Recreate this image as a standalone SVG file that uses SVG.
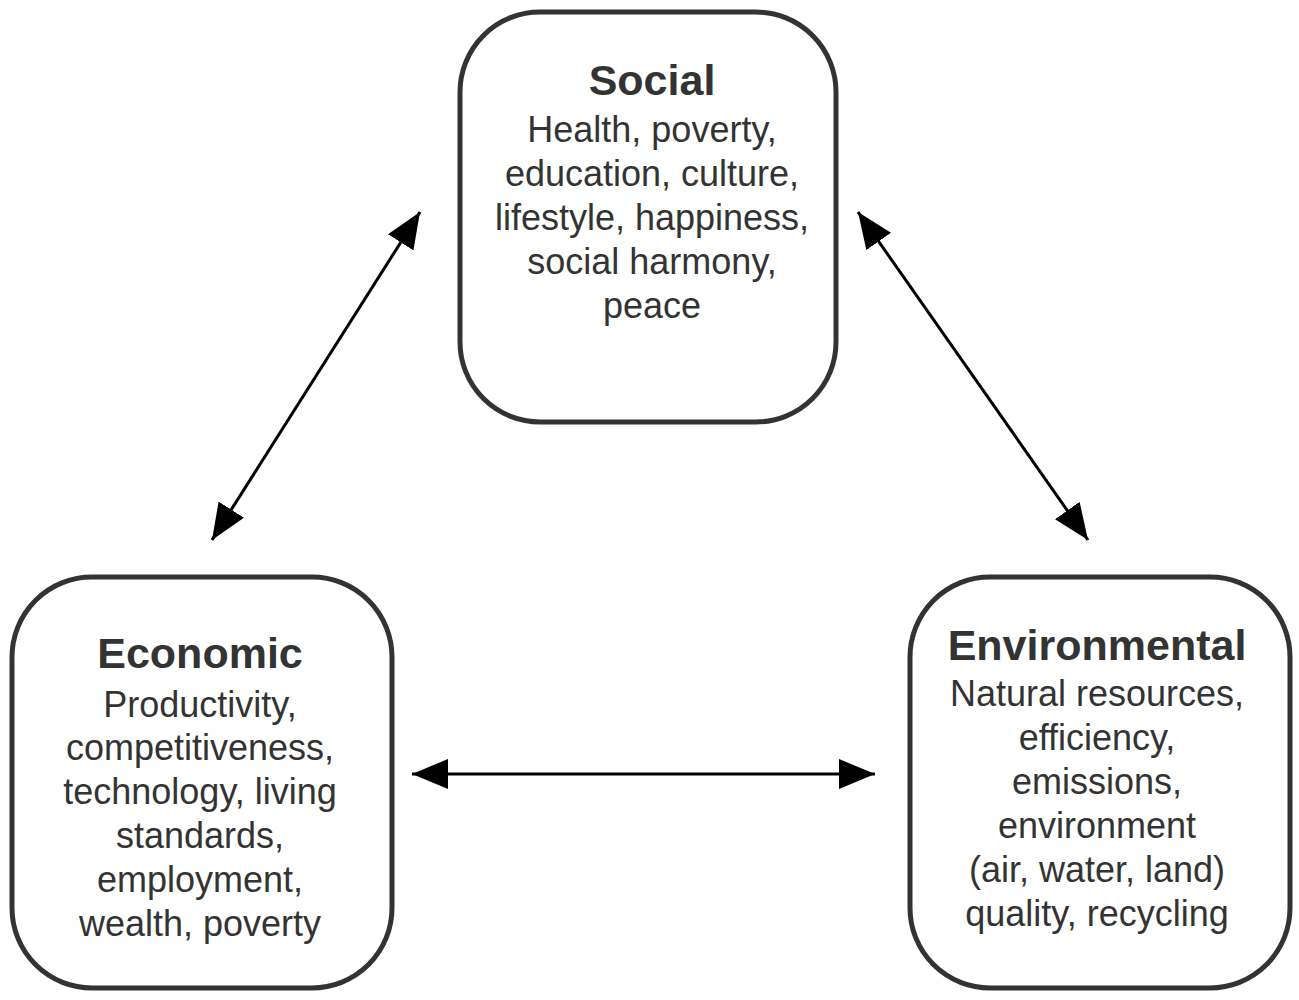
<svg xmlns="http://www.w3.org/2000/svg" width="1299" height="1000" viewBox="0 0 1299 1000">
<style>
.box{fill:#fff;stroke:#333;stroke-width:5}
.t{font-family:"Liberation Sans",Arial,sans-serif;font-size:36px;fill:#333;text-anchor:middle}
.h{font-weight:bold;font-size:43px}
.c{stroke:#000;stroke-width:3;fill:none;marker-start:url(#a);marker-end:url(#a)}
</style>
<defs>
<marker id="a" viewBox="0 0 36 30" refX="36" refY="15" markerWidth="36" markerHeight="30" markerUnits="userSpaceOnUse" orient="auto-start-reverse">
<path d="M0,0 L36,15 L0,30 z" fill="#000"/>
</marker>
</defs>
<rect width="1299" height="1000" fill="#fff"/>
<g id="social">
<rect class="box" x="460" y="12" width="376" height="410" rx="80"/>
<text class="t h" x="652" y="95">Social</text>
<text class="t" x="652" y="142">Health, poverty,</text>
<text class="t" x="652" y="186">education, culture,</text>
<text class="t" x="652" y="230">lifestyle, happiness,</text>
<text class="t" x="652" y="274">social harmony,</text>
<text class="t" x="652" y="318">peace</text>
</g>
<g id="economic">
<rect class="box" x="12" y="577" width="380" height="411" rx="80"/>
<text class="t h" x="200" y="668">Economic</text>
<text class="t" x="200" y="717">Productivity,</text>
<text class="t" x="200" y="760">competitiveness,</text>
<text class="t" x="200" y="804">technology, living</text>
<text class="t" x="200" y="848">standards,</text>
<text class="t" x="200" y="892">employment,</text>
<text class="t" x="200" y="936">wealth, poverty</text>
</g>
<g id="environmental">
<rect class="box" x="910" y="577" width="380" height="411" rx="80"/>
<text class="t h" x="1097" y="660">Environmental</text>
<text class="t" x="1097" y="706">Natural resources,</text>
<text class="t" x="1097" y="750">efficiency,</text>
<text class="t" x="1097" y="794">emissions,</text>
<text class="t" x="1097" y="838">environment</text>
<text class="t" x="1097" y="882">(air, water, land)</text>
<text class="t" x="1097" y="926">quality, recycling</text>
</g>
<g id="connectors">
<line class="c" x1="212" y1="540" x2="420" y2="212"/>
<line class="c" x1="858" y1="212" x2="1088" y2="540"/>
<line class="c" x1="412" y1="774" x2="875" y2="774"/>
</g>
</svg>
